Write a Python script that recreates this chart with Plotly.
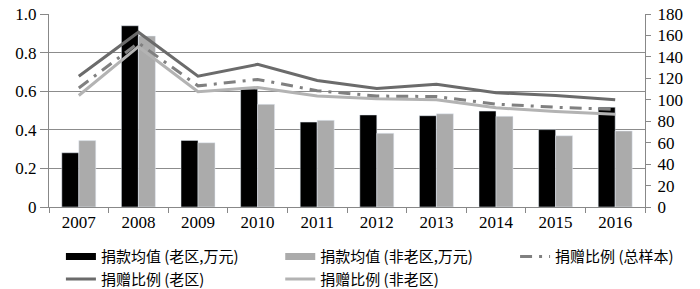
import plotly.graph_objects as go

years = ["2007", "2008", "2009", "2010", "2011", "2012", "2013", "2014", "2015", "2016"]

# bars, left axis
mean_old = [0.281, 0.939, 0.345, 0.611, 0.440, 0.477, 0.473, 0.497, 0.401, 0.517]
mean_nonold = [0.344, 0.886, 0.333, 0.532, 0.449, 0.382, 0.483, 0.470, 0.369, 0.394]

# lines, right axis
ratio_total = [111, 153, 113, 119, 108.5, 103.5, 103, 96, 93, 91]
ratio_old = [122, 163, 122, 133, 118, 110.5, 114.5, 106.5, 104, 100]
ratio_nonold = [104, 149.5, 107.5, 111.5, 103.5, 101, 100, 92.5, 89, 86.5]

left_ticks = [0, 0.2, 0.4, 0.6, 0.8, 1.0]
left_text = ["0", "0.2", "0.4", "0.6", "0.8", "1.0"]

BLACK = "#000000"
LIGHT = "#ababab"

fig = go.Figure()

fig.add_trace(go.Bar(x=years, y=mean_old, name="捐款均值 (老区,万元)",
                     marker_color=BLACK, showlegend=False))
fig.add_trace(go.Bar(x=years, y=mean_nonold, name="捐款均值 (非老区,万元)",
                     marker_color=LIGHT, showlegend=False))

# legend swatches for the bars (long flat bars as in the original)
fig.add_trace(go.Scatter(x=[None], y=[None], mode="lines", name="捐款均值 (老区,万元)",
                         line=dict(color=BLACK, width=7), legend="legend"))
fig.add_trace(go.Scatter(x=years, y=ratio_old, name="捐赠比例 (老区)", yaxis="y2",
                         mode="lines", line=dict(color="#6b6b6b", width=3), legend="legend"))
fig.add_trace(go.Scatter(x=[None], y=[None], mode="lines", name="捐款均值 (非老区,万元)",
                         line=dict(color=LIGHT, width=7), legend="legend2"))
fig.add_trace(go.Scatter(x=years, y=ratio_nonold, name="捐赠比例 (非老区)", yaxis="y2",
                         mode="lines", line=dict(color="#b3b3b3", width=3), legend="legend2"))
fig.add_trace(go.Scatter(x=years, y=ratio_total, name="捐赠比例 (总样本)", yaxis="y2",
                         mode="lines",
                         line=dict(color="#808080", width=3, dash="12px,7px,3px,7px"),
                         legend="legend3"))

tick_font = dict(family="Liberation Serif", size=17, color="#000")
leg_font = dict(family="Noto Sans CJK SC", size=15, color="#000")


def leg(x):
    return dict(orientation="v", x=x, xanchor="left", y=-0.172, yanchor="top",
                font=leg_font, tracegroupgap=0, traceorder="normal",
                bgcolor="rgba(0,0,0,0)")


fig.update_layout(
    width=700, height=289,
    margin=dict(l=49, r=55, t=14, b=82, autoexpand=False),
    paper_bgcolor="white", plot_bgcolor="white",
    barmode="group", bargap=0.43, bargroupgap=0,
    showlegend=True,
    legend=leg(0.02),
    legend2=leg(0.388),
    legend3=leg(0.782),
    xaxis=dict(tickfont=tick_font, showline=True, linecolor="#888", linewidth=1,
               ticks="outside", tickson="boundaries", ticklen=5, tickcolor="#888",
               showgrid=False),
    yaxis=dict(range=[0, 1], tickvals=left_ticks, ticktext=left_text, tickfont=tick_font,
               showgrid=True, gridcolor="#8c8c8c", gridwidth=1,
               showline=True, linecolor="#888", ticks="outside", ticklen=8,
               tickcolor="#888", zeroline=False, ticklabeloverflow="allow"),
    yaxis2=dict(range=[0, 180], dtick=20, overlaying="y", side="right",
                tickfont=tick_font, showgrid=False, showline=True, linecolor="#888",
                ticks="outside", ticklen=5, tickcolor="#888", zeroline=False,
                ticklabelstandoff=3, ticklabeloverflow="allow"),
)

# drop the default body margin so the figure sits at the window's corner
fig.write_html("out.html", config={"displayModeBar": False},
               post_script="document.body.style.margin='0px';")
